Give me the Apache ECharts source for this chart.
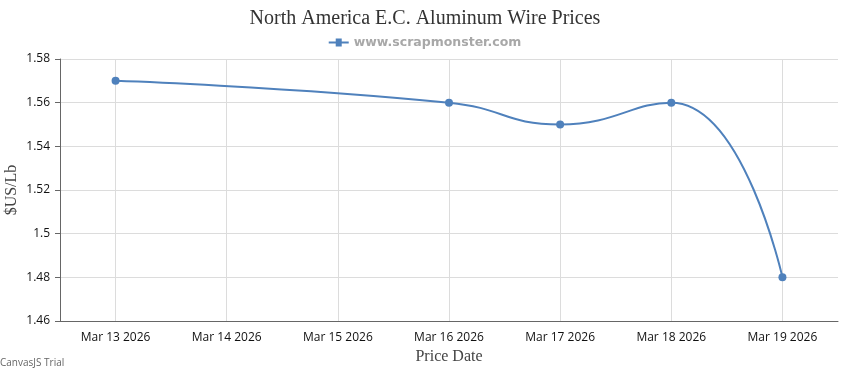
<!DOCTYPE html>
<html>
<head>
<meta charset="utf-8">
<script src="https://cdn.jsdelivr.net/npm/echarts@6/dist/echarts.min.js"></script>
<style>html,body{margin:0;padding:0;background:#fff}#c{width:850px;height:370px}</style>
</head>
<body>
<div id="c"></div>
<script>
const categories = ['Mar 13 2026','Mar 14 2026','Mar 15 2026','Mar 16 2026','Mar 17 2026','Mar 18 2026','Mar 19 2026'];
const pointDates = ['Mar 13 2026','Mar 16 2026','Mar 17 2026','Mar 18 2026','Mar 19 2026'];
const pointValues = [1.57, 1.56, 1.55, 1.56, 1.48];
const yTicks = {min: 1.46, max: 1.58, interval: 0.02};
const yAxisTitle = '$US/Lb';

const chart = echarts.init(document.getElementById('c'), null, {renderer: 'canvas'});
chart.setOption({
  animation: false,
  title: {
    text: 'North America E.C. Aluminum Wire Prices',
    left: 'center', top: 4,
    textStyle: {fontFamily: 'Liberation Serif', fontSize: 20, fontWeight: 'normal', color: '#333'}
  },
  legend: {
    top: 31, left: 'center',
    itemWidth: 20, itemHeight: 8, itemGap: 4,
    data: [{name: 'www.scrapmonster.com', icon: 'path://M0,3L7,3L7,0L13,0L13,3L20,3L20,5L13,5L13,8L7,8L7,5L0,5Z'}],
    textStyle: {fontFamily: 'DejaVu Sans', fontSize: 12.5, fontWeight: 'bold', color: '#a8a8a8'}
  },
  grid: {left: 60, right: 12, top: 59, bottom: 49, containLabel: false, outerBoundsMode: 'none'},
  xAxis: {
    type: 'category',
    data: categories,
    boundaryGap: true,
    name: 'Price Date', nameLocation: 'middle', nameGap: 27,
    nameTextStyle: {fontFamily: 'Liberation Serif', fontSize: 16, color: '#444'},
    axisLine: {lineStyle: {color: '#666', width: 1}},
    axisTick: {alignWithLabel: true, length: 5, lineStyle: {color: '#666'}},
    axisLabel: {fontFamily: 'Open Sans', fontSize: 12, color: '#111', margin: 11, interval: 0},
    splitLine: {show: true, alignWithLabel: true, lineStyle: {color: '#dcdcdc'}}
  },
  yAxis: {
    type: 'value',
    min: yTicks.min, max: yTicks.max, interval: yTicks.interval,
    axisLine: {show: true, lineStyle: {color: '#666', width: 1}},
    axisTick: {show: true, length: 5, lineStyle: {color: '#666'}},
    axisLabel: {fontFamily: 'Open Sans', fontSize: 12, color: '#111', margin: 10},
    splitLine: {show: true, lineStyle: {color: '#dcdcdc'}}
  },
  series: [{
    name: 'www.scrapmonster.com',
    type: 'line',
    smooth: 0.5,
    data: pointDates.map((d, i) => [d, pointValues[i]]),
    symbol: 'circle', symbolSize: 8,
    lineStyle: {color: '#4F81BC', width: 2},
    itemStyle: {color: '#4F81BC'}
  }],
  graphic: [{
    type: 'text', x: 12, y: 190, rotation: Math.PI / 2,
    style: {text: yAxisTitle, fontFamily: 'Liberation Serif', fontSize: 16, fill: '#444', align: 'center', verticalAlign: 'middle'}
  }, {
    type: 'text', left: 0, bottom: 2,
    style: {text: 'CanvasJS Trial', fontFamily: 'Open Sans', fontSize: 10, fill: '#666'}
  }]
});
</script>
</body>
</html>
